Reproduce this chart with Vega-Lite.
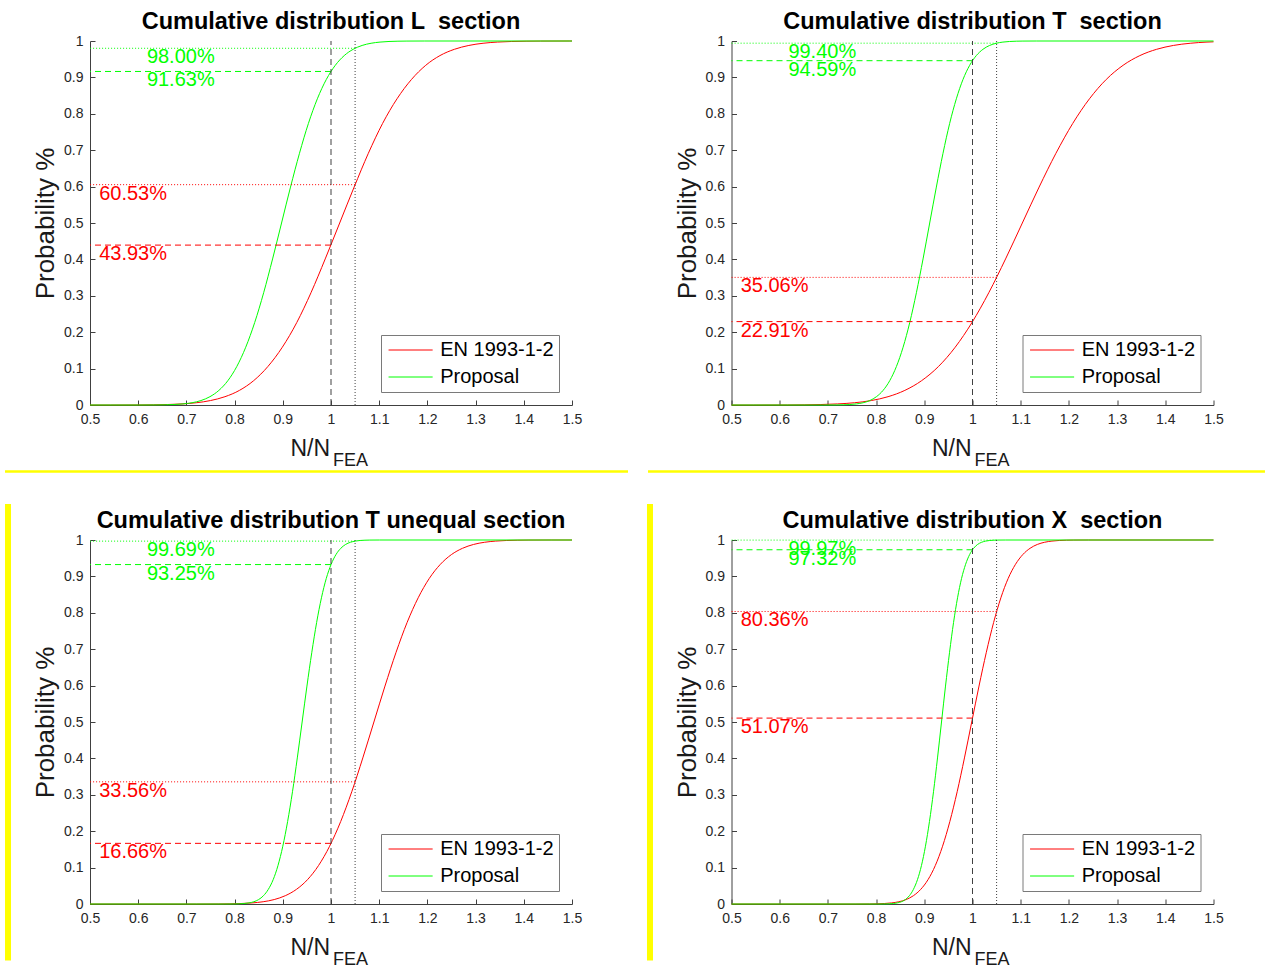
{
"$schema":"https://vega.github.io/schema/vega-lite/v6.json",
"padding":{"left":3,"top":10,"right":0,"bottom":0},
"config":{
 "font":"Liberation Sans",
 "view":{"stroke":null},
 "axis":{"grid":false,"domainColor":"#404040","tickColor":"#404040","labelColor":"#262626","labelFontSize":14,"tickSize":-5,"labelPadding":12,"labelOverlap":false,"labelFlush":false,"titleFontSize":26,"titleFontWeight":"normal","titleColor":"#1a1a1a"},
 "legend":{"title":null,"orient":"bottom-right","offset":13,"symbolType":"M-3,0H3","symbolSize":216,"symbolStrokeWidth":1,"symbolOffset":14.6,"labelOffset":19.6,"labelFontSize":20,"labelColor":"#000000","strokeColor":"#7a7a7a","fillColor":"#ffffff","padding":5,"rowPadding":7}
},
"datasets":{
"refs":[
{"panel":"L","series":"EN 1993-1-2","style":"dashed","x":1,"p":0.4393,"label":"43.93%"},
{"panel":"L","series":"EN 1993-1-2","style":"dotted","x":1.05,"p":0.6053,"label":"60.53%"},
{"panel":"L","series":"Proposal","style":"dashed","x":1,"p":0.9163,"label":"91.63%"},
{"panel":"L","series":"Proposal","style":"dotted","x":1.05,"p":0.98,"label":"98.00%"},
{"panel":"T","series":"EN 1993-1-2","style":"dashed","x":1,"p":0.2291,"label":"22.91%"},
{"panel":"T","series":"EN 1993-1-2","style":"dotted","x":1.05,"p":0.3506,"label":"35.06%"},
{"panel":"T","series":"Proposal","style":"dashed","x":1,"p":0.9459,"label":"94.59%"},
{"panel":"T","series":"Proposal","style":"dotted","x":1.05,"p":0.994,"label":"99.40%"},
{"panel":"Tu","series":"EN 1993-1-2","style":"dashed","x":1,"p":0.1666,"label":"16.66%"},
{"panel":"Tu","series":"EN 1993-1-2","style":"dotted","x":1.05,"p":0.3356,"label":"33.56%"},
{"panel":"Tu","series":"Proposal","style":"dashed","x":1,"p":0.9325,"label":"93.25%"},
{"panel":"Tu","series":"Proposal","style":"dotted","x":1.05,"p":0.9969,"label":"99.69%"},
{"panel":"X","series":"EN 1993-1-2","style":"dashed","x":1,"p":0.5107,"label":"51.07%"},
{"panel":"X","series":"EN 1993-1-2","style":"dotted","x":1.05,"p":0.8036,"label":"80.36%"},
{"panel":"X","series":"Proposal","style":"dashed","x":1,"p":0.9732,"label":"97.32%"},
{"panel":"X","series":"Proposal","style":"dotted","x":1.05,"p":0.9997,"label":"99.97%"}
],
"curves":[
{"panel":"L","series":"EN 1993-1-2","x":0.5,"p":0},{"panel":"L","series":"EN 1993-1-2","x":0.542,"p":0},{"panel":"L","series":"EN 1993-1-2","x":0.6015,"p":0.0002},{"panel":"L","series":"EN 1993-1-2","x":0.661,"p":0.0013},{"panel":"L","series":"EN 1993-1-2","x":0.691,"p":0.003},{"panel":"L","series":"EN 1993-1-2","x":0.7205,"p":0.0062},{"panel":"L","series":"EN 1993-1-2","x":0.75,"p":0.0122},{"panel":"L","series":"EN 1993-1-2","x":0.78,"p":0.0228},{"panel":"L","series":"EN 1993-1-2","x":0.81,"p":0.0401},{"panel":"L","series":"EN 1993-1-2","x":0.8395,"p":0.0668},{"panel":"L","series":"EN 1993-1-2","x":0.869,"p":0.1056},{"panel":"L","series":"EN 1993-1-2","x":0.899,"p":0.1587},{"panel":"L","series":"EN 1993-1-2","x":0.929,"p":0.2266},{"panel":"L","series":"EN 1993-1-2","x":0.9585,"p":0.3085},{"panel":"L","series":"EN 1993-1-2","x":0.988,"p":0.4013},{"panel":"L","series":"EN 1993-1-2","x":1.018,"p":0.5},{"panel":"L","series":"EN 1993-1-2","x":1.048,"p":0.5987},{"panel":"L","series":"EN 1993-1-2","x":1.0775,"p":0.6915},{"panel":"L","series":"EN 1993-1-2","x":1.107,"p":0.7734},{"panel":"L","series":"EN 1993-1-2","x":1.137,"p":0.8413},{"panel":"L","series":"EN 1993-1-2","x":1.167,"p":0.8944},{"panel":"L","series":"EN 1993-1-2","x":1.1965,"p":0.9332},{"panel":"L","series":"EN 1993-1-2","x":1.226,"p":0.9599},{"panel":"L","series":"EN 1993-1-2","x":1.256,"p":0.9772},{"panel":"L","series":"EN 1993-1-2","x":1.286,"p":0.9878},{"panel":"L","series":"EN 1993-1-2","x":1.3155,"p":0.9938},{"panel":"L","series":"EN 1993-1-2","x":1.345,"p":0.997},{"panel":"L","series":"EN 1993-1-2","x":1.375,"p":0.9987},{"panel":"L","series":"EN 1993-1-2","x":1.4345,"p":0.9998},{"panel":"L","series":"EN 1993-1-2","x":1.494,"p":1},{"panel":"L","series":"EN 1993-1-2","x":1.5,"p":1},
{"panel":"L","series":"Proposal","x":0.5,"p":0},{"panel":"L","series":"Proposal","x":0.6,"p":0},{"panel":"L","series":"Proposal","x":0.6374,"p":0.0002},{"panel":"L","series":"Proposal","x":0.6745,"p":0.0013},{"panel":"L","series":"Proposal","x":0.693,"p":0.003},{"panel":"L","series":"Proposal","x":0.7117,"p":0.0062},{"panel":"L","series":"Proposal","x":0.7302,"p":0.0122},{"panel":"L","series":"Proposal","x":0.7488,"p":0.0228},{"panel":"L","series":"Proposal","x":0.7674,"p":0.0401},{"panel":"L","series":"Proposal","x":0.786,"p":0.0668},{"panel":"L","series":"Proposal","x":0.8045,"p":0.1056},{"panel":"L","series":"Proposal","x":0.8231,"p":0.1587},{"panel":"L","series":"Proposal","x":0.8417,"p":0.2266},{"panel":"L","series":"Proposal","x":0.8603,"p":0.3085},{"panel":"L","series":"Proposal","x":0.8788,"p":0.4013},{"panel":"L","series":"Proposal","x":0.8974,"p":0.5},{"panel":"L","series":"Proposal","x":0.916,"p":0.5987},{"panel":"L","series":"Proposal","x":0.9346,"p":0.6915},{"panel":"L","series":"Proposal","x":0.9531,"p":0.7734},{"panel":"L","series":"Proposal","x":0.9717,"p":0.8413},{"panel":"L","series":"Proposal","x":0.9903,"p":0.8944},{"panel":"L","series":"Proposal","x":1.0089,"p":0.9332},{"panel":"L","series":"Proposal","x":1.0274,"p":0.9599},{"panel":"L","series":"Proposal","x":1.046,"p":0.9772},{"panel":"L","series":"Proposal","x":1.0646,"p":0.9878},{"panel":"L","series":"Proposal","x":1.0832,"p":0.9938},{"panel":"L","series":"Proposal","x":1.1017,"p":0.997},{"panel":"L","series":"Proposal","x":1.1203,"p":0.9987},{"panel":"L","series":"Proposal","x":1.1575,"p":0.9998},{"panel":"L","series":"Proposal","x":1.1946,"p":1},{"panel":"L","series":"Proposal","x":1.5,"p":1},
{"panel":"T","series":"EN 1993-1-2","x":0.5,"p":0},{"panel":"T","series":"EN 1993-1-2","x":0.5462,"p":0},{"panel":"T","series":"EN 1993-1-2","x":0.6159,"p":0.0002},{"panel":"T","series":"EN 1993-1-2","x":0.6855,"p":0.0013},{"panel":"T","series":"EN 1993-1-2","x":0.7203,"p":0.003},{"panel":"T","series":"EN 1993-1-2","x":0.7552,"p":0.0062},{"panel":"T","series":"EN 1993-1-2","x":0.79,"p":0.0122},{"panel":"T","series":"EN 1993-1-2","x":0.8248,"p":0.0228},{"panel":"T","series":"EN 1993-1-2","x":0.8596,"p":0.0401},{"panel":"T","series":"EN 1993-1-2","x":0.8944,"p":0.0668},{"panel":"T","series":"EN 1993-1-2","x":0.9293,"p":0.1056},{"panel":"T","series":"EN 1993-1-2","x":0.9641,"p":0.1587},{"panel":"T","series":"EN 1993-1-2","x":0.9989,"p":0.2266},{"panel":"T","series":"EN 1993-1-2","x":1.0338,"p":0.3085},{"panel":"T","series":"EN 1993-1-2","x":1.0686,"p":0.4013},{"panel":"T","series":"EN 1993-1-2","x":1.1034,"p":0.5},{"panel":"T","series":"EN 1993-1-2","x":1.1382,"p":0.5987},{"panel":"T","series":"EN 1993-1-2","x":1.1731,"p":0.6915},{"panel":"T","series":"EN 1993-1-2","x":1.2079,"p":0.7734},{"panel":"T","series":"EN 1993-1-2","x":1.2427,"p":0.8413},{"panel":"T","series":"EN 1993-1-2","x":1.2775,"p":0.8944},{"panel":"T","series":"EN 1993-1-2","x":1.3124,"p":0.9332},{"panel":"T","series":"EN 1993-1-2","x":1.3472,"p":0.9599},{"panel":"T","series":"EN 1993-1-2","x":1.382,"p":0.9772},{"panel":"T","series":"EN 1993-1-2","x":1.4168,"p":0.9878},{"panel":"T","series":"EN 1993-1-2","x":1.4517,"p":0.9938},{"panel":"T","series":"EN 1993-1-2","x":1.4865,"p":0.997},{"panel":"T","series":"EN 1993-1-2","x":1.5,"p":0.9977},
{"panel":"T","series":"Proposal","x":0.5,"p":0},{"panel":"T","series":"Proposal","x":0.6902,"p":0},{"panel":"T","series":"Proposal","x":0.7178,"p":0.0002},{"panel":"T","series":"Proposal","x":0.7455,"p":0.0013},{"panel":"T","series":"Proposal","x":0.7593,"p":0.003},{"panel":"T","series":"Proposal","x":0.7731,"p":0.0062},{"panel":"T","series":"Proposal","x":0.7869,"p":0.0122},{"panel":"T","series":"Proposal","x":0.8007,"p":0.0228},{"panel":"T","series":"Proposal","x":0.8145,"p":0.0401},{"panel":"T","series":"Proposal","x":0.8283,"p":0.0668},{"panel":"T","series":"Proposal","x":0.8421,"p":0.1056},{"panel":"T","series":"Proposal","x":0.856,"p":0.1587},{"panel":"T","series":"Proposal","x":0.8698,"p":0.2266},{"panel":"T","series":"Proposal","x":0.8836,"p":0.3085},{"panel":"T","series":"Proposal","x":0.8974,"p":0.4013},{"panel":"T","series":"Proposal","x":0.9112,"p":0.5},{"panel":"T","series":"Proposal","x":0.925,"p":0.5987},{"panel":"T","series":"Proposal","x":0.9388,"p":0.6915},{"panel":"T","series":"Proposal","x":0.9526,"p":0.7734},{"panel":"T","series":"Proposal","x":0.9665,"p":0.8413},{"panel":"T","series":"Proposal","x":0.9803,"p":0.8944},{"panel":"T","series":"Proposal","x":0.9941,"p":0.9332},{"panel":"T","series":"Proposal","x":1.0079,"p":0.9599},{"panel":"T","series":"Proposal","x":1.0217,"p":0.9772},{"panel":"T","series":"Proposal","x":1.0355,"p":0.9878},{"panel":"T","series":"Proposal","x":1.0493,"p":0.9938},{"panel":"T","series":"Proposal","x":1.0631,"p":0.997},{"panel":"T","series":"Proposal","x":1.077,"p":0.9987},{"panel":"T","series":"Proposal","x":1.1046,"p":0.9998},{"panel":"T","series":"Proposal","x":1.1322,"p":1},{"panel":"T","series":"Proposal","x":1.5,"p":1},
{"panel":"Tu","series":"EN 1993-1-2","x":0.5,"p":0},{"panel":"Tu","series":"EN 1993-1-2","x":0.7214,"p":0},{"panel":"Tu","series":"EN 1993-1-2","x":0.7674,"p":0.0002},{"panel":"Tu","series":"EN 1993-1-2","x":0.8133,"p":0.0013},{"panel":"Tu","series":"EN 1993-1-2","x":0.8363,"p":0.003},{"panel":"Tu","series":"EN 1993-1-2","x":0.8593,"p":0.0062},{"panel":"Tu","series":"EN 1993-1-2","x":0.8822,"p":0.0122},{"panel":"Tu","series":"EN 1993-1-2","x":0.9052,"p":0.0228},{"panel":"Tu","series":"EN 1993-1-2","x":0.9282,"p":0.0401},{"panel":"Tu","series":"EN 1993-1-2","x":0.9512,"p":0.0668},{"panel":"Tu","series":"EN 1993-1-2","x":0.9741,"p":0.1056},{"panel":"Tu","series":"EN 1993-1-2","x":0.9971,"p":0.1587},{"panel":"Tu","series":"EN 1993-1-2","x":1.0201,"p":0.2266},{"panel":"Tu","series":"EN 1993-1-2","x":1.0431,"p":0.3085},{"panel":"Tu","series":"EN 1993-1-2","x":1.066,"p":0.4013},{"panel":"Tu","series":"EN 1993-1-2","x":1.089,"p":0.5},{"panel":"Tu","series":"EN 1993-1-2","x":1.112,"p":0.5987},{"panel":"Tu","series":"EN 1993-1-2","x":1.135,"p":0.6915},{"panel":"Tu","series":"EN 1993-1-2","x":1.1579,"p":0.7734},{"panel":"Tu","series":"EN 1993-1-2","x":1.1809,"p":0.8413},{"panel":"Tu","series":"EN 1993-1-2","x":1.2039,"p":0.8944},{"panel":"Tu","series":"EN 1993-1-2","x":1.2269,"p":0.9332},{"panel":"Tu","series":"EN 1993-1-2","x":1.2498,"p":0.9599},{"panel":"Tu","series":"EN 1993-1-2","x":1.2728,"p":0.9772},{"panel":"Tu","series":"EN 1993-1-2","x":1.2958,"p":0.9878},{"panel":"Tu","series":"EN 1993-1-2","x":1.3188,"p":0.9938},{"panel":"Tu","series":"EN 1993-1-2","x":1.3417,"p":0.997},{"panel":"Tu","series":"EN 1993-1-2","x":1.3647,"p":0.9987},{"panel":"Tu","series":"EN 1993-1-2","x":1.4107,"p":0.9998},{"panel":"Tu","series":"EN 1993-1-2","x":1.4566,"p":1},{"panel":"Tu","series":"EN 1993-1-2","x":1.5,"p":1},
{"panel":"Tu","series":"Proposal","x":0.5,"p":0},{"panel":"Tu","series":"Proposal","x":0.7797,"p":0},{"panel":"Tu","series":"Proposal","x":0.7998,"p":0.0002},{"panel":"Tu","series":"Proposal","x":0.8198,"p":0.0013},{"panel":"Tu","series":"Proposal","x":0.8298,"p":0.003},{"panel":"Tu","series":"Proposal","x":0.8399,"p":0.0062},{"panel":"Tu","series":"Proposal","x":0.8499,"p":0.0122},{"panel":"Tu","series":"Proposal","x":0.8599,"p":0.0228},{"panel":"Tu","series":"Proposal","x":0.8699,"p":0.0401},{"panel":"Tu","series":"Proposal","x":0.88,"p":0.0668},{"panel":"Tu","series":"Proposal","x":0.89,"p":0.1056},{"panel":"Tu","series":"Proposal","x":0.9,"p":0.1587},{"panel":"Tu","series":"Proposal","x":0.91,"p":0.2266},{"panel":"Tu","series":"Proposal","x":0.9201,"p":0.3085},{"panel":"Tu","series":"Proposal","x":0.9301,"p":0.4013},{"panel":"Tu","series":"Proposal","x":0.9401,"p":0.5},{"panel":"Tu","series":"Proposal","x":0.9501,"p":0.5987},{"panel":"Tu","series":"Proposal","x":0.9602,"p":0.6915},{"panel":"Tu","series":"Proposal","x":0.9702,"p":0.7734},{"panel":"Tu","series":"Proposal","x":0.9802,"p":0.8413},{"panel":"Tu","series":"Proposal","x":0.9902,"p":0.8944},{"panel":"Tu","series":"Proposal","x":1.0003,"p":0.9332},{"panel":"Tu","series":"Proposal","x":1.0103,"p":0.9599},{"panel":"Tu","series":"Proposal","x":1.0203,"p":0.9772},{"panel":"Tu","series":"Proposal","x":1.0303,"p":0.9878},{"panel":"Tu","series":"Proposal","x":1.0404,"p":0.9938},{"panel":"Tu","series":"Proposal","x":1.0504,"p":0.997},{"panel":"Tu","series":"Proposal","x":1.0604,"p":0.9987},{"panel":"Tu","series":"Proposal","x":1.0805,"p":0.9998},{"panel":"Tu","series":"Proposal","x":1.1005,"p":1},{"panel":"Tu","series":"Proposal","x":1.5,"p":1},
{"panel":"X","series":"EN 1993-1-2","x":0.5,"p":0},{"panel":"X","series":"EN 1993-1-2","x":0.7564,"p":0},{"panel":"X","series":"EN 1993-1-2","x":0.7867,"p":0.0002},{"panel":"X","series":"EN 1993-1-2","x":0.8169,"p":0.0013},{"panel":"X","series":"EN 1993-1-2","x":0.832,"p":0.003},{"panel":"X","series":"EN 1993-1-2","x":0.8472,"p":0.0062},{"panel":"X","series":"EN 1993-1-2","x":0.8623,"p":0.0122},{"panel":"X","series":"EN 1993-1-2","x":0.8774,"p":0.0228},{"panel":"X","series":"EN 1993-1-2","x":0.8925,"p":0.0401},{"panel":"X","series":"EN 1993-1-2","x":0.9077,"p":0.0668},{"panel":"X","series":"EN 1993-1-2","x":0.9228,"p":0.1056},{"panel":"X","series":"EN 1993-1-2","x":0.9379,"p":0.1587},{"panel":"X","series":"EN 1993-1-2","x":0.953,"p":0.2266},{"panel":"X","series":"EN 1993-1-2","x":0.9682,"p":0.3085},{"panel":"X","series":"EN 1993-1-2","x":0.9833,"p":0.4013},{"panel":"X","series":"EN 1993-1-2","x":0.9984,"p":0.5},{"panel":"X","series":"EN 1993-1-2","x":1.0135,"p":0.5987},{"panel":"X","series":"EN 1993-1-2","x":1.0287,"p":0.6915},{"panel":"X","series":"EN 1993-1-2","x":1.0438,"p":0.7734},{"panel":"X","series":"EN 1993-1-2","x":1.0589,"p":0.8413},{"panel":"X","series":"EN 1993-1-2","x":1.074,"p":0.8944},{"panel":"X","series":"EN 1993-1-2","x":1.0892,"p":0.9332},{"panel":"X","series":"EN 1993-1-2","x":1.1043,"p":0.9599},{"panel":"X","series":"EN 1993-1-2","x":1.1194,"p":0.9772},{"panel":"X","series":"EN 1993-1-2","x":1.1345,"p":0.9878},{"panel":"X","series":"EN 1993-1-2","x":1.1497,"p":0.9938},{"panel":"X","series":"EN 1993-1-2","x":1.1648,"p":0.997},{"panel":"X","series":"EN 1993-1-2","x":1.1799,"p":0.9987},{"panel":"X","series":"EN 1993-1-2","x":1.2102,"p":0.9998},{"panel":"X","series":"EN 1993-1-2","x":1.2404,"p":1},{"panel":"X","series":"EN 1993-1-2","x":1.5,"p":1},
{"panel":"X","series":"Proposal","x":0.5,"p":0},{"panel":"X","series":"Proposal","x":0.8025,"p":0},{"panel":"X","series":"Proposal","x":0.8191,"p":0.0002},{"panel":"X","series":"Proposal","x":0.8358,"p":0.0013},{"panel":"X","series":"Proposal","x":0.8441,"p":0.003},{"panel":"X","series":"Proposal","x":0.8525,"p":0.0062},{"panel":"X","series":"Proposal","x":0.8608,"p":0.0122},{"panel":"X","series":"Proposal","x":0.8691,"p":0.0228},{"panel":"X","series":"Proposal","x":0.8774,"p":0.0401},{"panel":"X","series":"Proposal","x":0.8858,"p":0.0668},{"panel":"X","series":"Proposal","x":0.8941,"p":0.1056},{"panel":"X","series":"Proposal","x":0.9024,"p":0.1587},{"panel":"X","series":"Proposal","x":0.9107,"p":0.2266},{"panel":"X","series":"Proposal","x":0.9191,"p":0.3085},{"panel":"X","series":"Proposal","x":0.9274,"p":0.4013},{"panel":"X","series":"Proposal","x":0.9357,"p":0.5},{"panel":"X","series":"Proposal","x":0.944,"p":0.5987},{"panel":"X","series":"Proposal","x":0.9524,"p":0.6915},{"panel":"X","series":"Proposal","x":0.9607,"p":0.7734},{"panel":"X","series":"Proposal","x":0.969,"p":0.8413},{"panel":"X","series":"Proposal","x":0.9773,"p":0.8944},{"panel":"X","series":"Proposal","x":0.9857,"p":0.9332},{"panel":"X","series":"Proposal","x":0.994,"p":0.9599},{"panel":"X","series":"Proposal","x":1.0023,"p":0.9772},{"panel":"X","series":"Proposal","x":1.0106,"p":0.9878},{"panel":"X","series":"Proposal","x":1.019,"p":0.9938},{"panel":"X","series":"Proposal","x":1.0273,"p":0.997},{"panel":"X","series":"Proposal","x":1.0356,"p":0.9987},{"panel":"X","series":"Proposal","x":1.0523,"p":0.9998},{"panel":"X","series":"Proposal","x":1.069,"p":1},{"panel":"X","series":"Proposal","x":1.5,"p":1}
]
},
"spacing":28,
"bounds":"full",
"resolve":{"scale":{"color":"independent"}},
"vconcat":[
{"hconcat":[
{"width":482,"height":364,
"layer":[
{"data":{"name":"curves"},"transform":[{"filter":"datum.panel === 'L'"}],"mark":{"type":"line","interpolate":"monotone","strokeWidth":1},
 "encoding":{"x":{"field":"x","type":"quantitative","scale":{"domain":[0.5,1.5]},"axis":{"title":null,"values":[0.5,0.6,0.7,0.8,0.9,1,1.1,1.2,1.3,1.4,1.5],"format":".1~f","labelOverlap":false}},
 "y":{"field":"p","type":"quantitative","scale":{"domain":[0,1]},"axis":{"title":"Probability %","values":[0,0.1,0.2,0.3,0.4,0.5,0.6,0.7,0.8,0.9,1],"format":".1~f","titlePadding":5,"labelOverlap":false,"tickCount":11}},
 "color":{"field":"series","type":"nominal","scale":{"domain":["EN 1993-1-2","Proposal"],"range":["#ff0000","#00ff00"]}}}},
{"data":{"name":"refs"},"transform":[{"filter":"datum.panel === 'L' && datum.style === 'dashed'"}],"mark":{"type":"rule","strokeDash":[6,4],"strokeWidth":1},"encoding":{"x":{"field":"x","type":"quantitative"},"x2":{"datum":0.5},"y":{"field":"p","type":"quantitative"},"stroke":{"field":"series","type":"nominal","scale":{"domain":["EN 1993-1-2","Proposal"],"range":["#ff0000","#00ff00"]},"legend":null}}},
{"data":{"name":"refs"},"transform":[{"filter":"datum.panel === 'L' && datum.style === 'dotted'"}],"mark":{"type":"rule","strokeDash":[1,2],"strokeWidth":1},"encoding":{"x":{"field":"x","type":"quantitative"},"x2":{"datum":0.5},"y":{"field":"p","type":"quantitative"},"stroke":{"field":"series","type":"nominal","scale":{"domain":["EN 1993-1-2","Proposal"],"range":["#ff0000","#00ff00"]},"legend":null}}},
{"data":{"name":"refs"},"transform":[{"filter":"datum.panel === 'L' && datum.series === 'EN 1993-1-2'"}],"mark":{"type":"text","align":"left","baseline":"top","fontSize":20,"dy":-1},"encoding":{"x":{"datum":0.519,"type":"quantitative"},"y":{"field":"p","type":"quantitative"},"text":{"field":"label","type":"nominal"},"fill":{"field":"series","type":"nominal","scale":{"domain":["EN 1993-1-2","Proposal"],"range":["#ff0000","#00ff00"]},"legend":null}}},
{"data":{"name":"refs"},"transform":[{"filter":"datum.panel === 'L' && datum.series === 'Proposal'"}],"mark":{"type":"text","align":"left","baseline":"top","fontSize":20,"dy":-1},"encoding":{"x":{"datum":0.618,"type":"quantitative"},"y":{"field":"p","type":"quantitative"},"text":{"field":"label","type":"nominal"},"fill":{"field":"series","type":"nominal","scale":{"domain":["EN 1993-1-2","Proposal"],"range":["#ff0000","#00ff00"]},"legend":null}}},
{"data":{"name":"refs"},"transform":[{"filter":"datum.panel === 'L' && datum.series === 'EN 1993-1-2' && datum.style === 'dashed'"}],"mark":{"type":"rule","strokeDash":[6,4],"strokeWidth":1,"color":"#404040"},"encoding":{"x":{"field":"x","type":"quantitative"},"y":{"datum":0,"type":"quantitative"},"y2":{"datum":1}}},
{"data":{"name":"refs"},"transform":[{"filter":"datum.panel === 'L' && datum.series === 'EN 1993-1-2' && datum.style === 'dotted'"}],"mark":{"type":"rule","strokeDash":[1,2],"strokeWidth":1,"color":"#404040"},"encoding":{"x":{"field":"x","type":"quantitative"},"y":{"datum":0,"type":"quantitative"},"y2":{"datum":1}}},
{"data":{"name":"refs"},"transform":[{"filter":"datum.panel === 'L' && datum.series === 'EN 1993-1-2' && datum.style === 'dashed'"}],"mark":{"type":"text","align":"center","baseline":"alphabetic","fontSize":23.5,"fontWeight":"bold","color":"#000000"},"encoding":{"x":{"datum":1.0,"type":"quantitative"},"y":{"datum":1.0316,"type":"quantitative"},"text":{"value":"Cumulative distribution L\u00a0 section"}}},
{"data":{"name":"refs"},"transform":[{"filter":"datum.panel === 'L' && datum.series === 'EN 1993-1-2' && datum.style === 'dashed'"}],"mark":{"type":"text","align":"right","baseline":"alphabetic","fontSize":23,"color":"#1a1a1a"},"encoding":{"x":{"datum":0.998,"type":"quantitative"},"y":{"datum":-0.14,"type":"quantitative"},"text":{"value":"N/N"}}},
{"data":{"name":"refs"},"transform":[{"filter":"datum.panel === 'L' && datum.series === 'EN 1993-1-2' && datum.style === 'dashed'"}],"mark":{"type":"text","align":"left","baseline":"alphabetic","fontSize":18,"color":"#1a1a1a"},"encoding":{"x":{"datum":1.004,"type":"quantitative"},"y":{"datum":-0.167,"type":"quantitative"},"text":{"value":"FEA"}}},
{"data":{"name":"refs"},"transform":[{"filter":"datum.panel === 'L' && datum.series === 'EN 1993-1-2' && datum.style === 'dashed'"}],"mark":{"type":"rule","strokeWidth":2.5,"color":"#ffff00"},"encoding":{"x":{"datum":0.3237,"type":"quantitative"},"x2":{"datum":1.6162},"y":{"datum":-0.1827,"type":"quantitative"}}}
]},
{"width":482,"height":364,
"layer":[
{"data":{"name":"curves"},"transform":[{"filter":"datum.panel === 'T'"}],"mark":{"type":"line","interpolate":"monotone","strokeWidth":1},
 "encoding":{"x":{"field":"x","type":"quantitative","scale":{"domain":[0.5,1.5]},"axis":{"title":null,"values":[0.5,0.6,0.7,0.8,0.9,1,1.1,1.2,1.3,1.4,1.5],"format":".1~f","labelOverlap":false}},
 "y":{"field":"p","type":"quantitative","scale":{"domain":[0,1]},"axis":{"title":"Probability %","values":[0,0.1,0.2,0.3,0.4,0.5,0.6,0.7,0.8,0.9,1],"format":".1~f","titlePadding":5,"labelOverlap":false,"tickCount":11}},
 "color":{"field":"series","type":"nominal","scale":{"domain":["EN 1993-1-2","Proposal"],"range":["#ff0000","#00ff00"]}}}},
{"data":{"name":"refs"},"transform":[{"filter":"datum.panel === 'T' && datum.style === 'dashed'"}],"mark":{"type":"rule","strokeDash":[6,4],"strokeWidth":1},"encoding":{"x":{"field":"x","type":"quantitative"},"x2":{"datum":0.5},"y":{"field":"p","type":"quantitative"},"stroke":{"field":"series","type":"nominal","scale":{"domain":["EN 1993-1-2","Proposal"],"range":["#ff0000","#00ff00"]},"legend":null}}},
{"data":{"name":"refs"},"transform":[{"filter":"datum.panel === 'T' && datum.style === 'dotted'"}],"mark":{"type":"rule","strokeDash":[1,2],"strokeWidth":1},"encoding":{"x":{"field":"x","type":"quantitative"},"x2":{"datum":0.5},"y":{"field":"p","type":"quantitative"},"stroke":{"field":"series","type":"nominal","scale":{"domain":["EN 1993-1-2","Proposal"],"range":["#ff0000","#00ff00"]},"legend":null}}},
{"data":{"name":"refs"},"transform":[{"filter":"datum.panel === 'T' && datum.series === 'EN 1993-1-2'"}],"mark":{"type":"text","align":"left","baseline":"top","fontSize":20,"dy":-1},"encoding":{"x":{"datum":0.519,"type":"quantitative"},"y":{"field":"p","type":"quantitative"},"text":{"field":"label","type":"nominal"},"fill":{"field":"series","type":"nominal","scale":{"domain":["EN 1993-1-2","Proposal"],"range":["#ff0000","#00ff00"]},"legend":null}}},
{"data":{"name":"refs"},"transform":[{"filter":"datum.panel === 'T' && datum.series === 'Proposal'"}],"mark":{"type":"text","align":"left","baseline":"top","fontSize":20,"dy":-1},"encoding":{"x":{"datum":0.618,"type":"quantitative"},"y":{"field":"p","type":"quantitative"},"text":{"field":"label","type":"nominal"},"fill":{"field":"series","type":"nominal","scale":{"domain":["EN 1993-1-2","Proposal"],"range":["#ff0000","#00ff00"]},"legend":null}}},
{"data":{"name":"refs"},"transform":[{"filter":"datum.panel === 'T' && datum.series === 'EN 1993-1-2' && datum.style === 'dashed'"}],"mark":{"type":"rule","strokeDash":[6,4],"strokeWidth":1,"color":"#404040"},"encoding":{"x":{"field":"x","type":"quantitative"},"y":{"datum":0,"type":"quantitative"},"y2":{"datum":1}}},
{"data":{"name":"refs"},"transform":[{"filter":"datum.panel === 'T' && datum.series === 'EN 1993-1-2' && datum.style === 'dotted'"}],"mark":{"type":"rule","strokeDash":[1,2],"strokeWidth":1,"color":"#404040"},"encoding":{"x":{"field":"x","type":"quantitative"},"y":{"datum":0,"type":"quantitative"},"y2":{"datum":1}}},
{"data":{"name":"refs"},"transform":[{"filter":"datum.panel === 'T' && datum.series === 'EN 1993-1-2' && datum.style === 'dashed'"}],"mark":{"type":"text","align":"center","baseline":"alphabetic","fontSize":23.5,"fontWeight":"bold","color":"#000000"},"encoding":{"x":{"datum":1.0,"type":"quantitative"},"y":{"datum":1.0316,"type":"quantitative"},"text":{"value":"Cumulative distribution T\u00a0 section"}}},
{"data":{"name":"refs"},"transform":[{"filter":"datum.panel === 'T' && datum.series === 'EN 1993-1-2' && datum.style === 'dashed'"}],"mark":{"type":"text","align":"right","baseline":"alphabetic","fontSize":23,"color":"#1a1a1a"},"encoding":{"x":{"datum":0.998,"type":"quantitative"},"y":{"datum":-0.14,"type":"quantitative"},"text":{"value":"N/N"}}},
{"data":{"name":"refs"},"transform":[{"filter":"datum.panel === 'T' && datum.series === 'EN 1993-1-2' && datum.style === 'dashed'"}],"mark":{"type":"text","align":"left","baseline":"alphabetic","fontSize":18,"color":"#1a1a1a"},"encoding":{"x":{"datum":1.004,"type":"quantitative"},"y":{"datum":-0.167,"type":"quantitative"},"text":{"value":"FEA"}}},
{"data":{"name":"refs"},"transform":[{"filter":"datum.panel === 'T' && datum.series === 'EN 1993-1-2' && datum.style === 'dashed'"}],"mark":{"type":"rule","strokeWidth":2.5,"color":"#ffff00"},"encoding":{"x":{"datum":0.3268,"type":"quantitative"},"x2":{"datum":1.6068},"y":{"datum":-0.1827,"type":"quantitative"}}}
]}
],"spacing":159.5,"bounds":"flush","resolve":{"scale":{"color":"independent"}}},
{"hconcat":[
{"width":482,"height":364,
"layer":[
{"data":{"name":"curves"},"transform":[{"filter":"datum.panel === 'Tu'"}],"mark":{"type":"line","interpolate":"monotone","strokeWidth":1},
 "encoding":{"x":{"field":"x","type":"quantitative","scale":{"domain":[0.5,1.5]},"axis":{"title":null,"values":[0.5,0.6,0.7,0.8,0.9,1,1.1,1.2,1.3,1.4,1.5],"format":".1~f","labelOverlap":false}},
 "y":{"field":"p","type":"quantitative","scale":{"domain":[0,1]},"axis":{"title":"Probability %","values":[0,0.1,0.2,0.3,0.4,0.5,0.6,0.7,0.8,0.9,1],"format":".1~f","titlePadding":5,"labelOverlap":false,"tickCount":11}},
 "color":{"field":"series","type":"nominal","scale":{"domain":["EN 1993-1-2","Proposal"],"range":["#ff0000","#00ff00"]}}}},
{"data":{"name":"refs"},"transform":[{"filter":"datum.panel === 'Tu' && datum.style === 'dashed'"}],"mark":{"type":"rule","strokeDash":[6,4],"strokeWidth":1},"encoding":{"x":{"field":"x","type":"quantitative"},"x2":{"datum":0.5},"y":{"field":"p","type":"quantitative"},"stroke":{"field":"series","type":"nominal","scale":{"domain":["EN 1993-1-2","Proposal"],"range":["#ff0000","#00ff00"]},"legend":null}}},
{"data":{"name":"refs"},"transform":[{"filter":"datum.panel === 'Tu' && datum.style === 'dotted'"}],"mark":{"type":"rule","strokeDash":[1,2],"strokeWidth":1},"encoding":{"x":{"field":"x","type":"quantitative"},"x2":{"datum":0.5},"y":{"field":"p","type":"quantitative"},"stroke":{"field":"series","type":"nominal","scale":{"domain":["EN 1993-1-2","Proposal"],"range":["#ff0000","#00ff00"]},"legend":null}}},
{"data":{"name":"refs"},"transform":[{"filter":"datum.panel === 'Tu' && datum.series === 'EN 1993-1-2'"}],"mark":{"type":"text","align":"left","baseline":"top","fontSize":20,"dy":-1},"encoding":{"x":{"datum":0.519,"type":"quantitative"},"y":{"field":"p","type":"quantitative"},"text":{"field":"label","type":"nominal"},"fill":{"field":"series","type":"nominal","scale":{"domain":["EN 1993-1-2","Proposal"],"range":["#ff0000","#00ff00"]},"legend":null}}},
{"data":{"name":"refs"},"transform":[{"filter":"datum.panel === 'Tu' && datum.series === 'Proposal'"}],"mark":{"type":"text","align":"left","baseline":"top","fontSize":20,"dy":-1},"encoding":{"x":{"datum":0.618,"type":"quantitative"},"y":{"field":"p","type":"quantitative"},"text":{"field":"label","type":"nominal"},"fill":{"field":"series","type":"nominal","scale":{"domain":["EN 1993-1-2","Proposal"],"range":["#ff0000","#00ff00"]},"legend":null}}},
{"data":{"name":"refs"},"transform":[{"filter":"datum.panel === 'Tu' && datum.series === 'EN 1993-1-2' && datum.style === 'dashed'"}],"mark":{"type":"rule","strokeDash":[6,4],"strokeWidth":1,"color":"#404040"},"encoding":{"x":{"field":"x","type":"quantitative"},"y":{"datum":0,"type":"quantitative"},"y2":{"datum":1}}},
{"data":{"name":"refs"},"transform":[{"filter":"datum.panel === 'Tu' && datum.series === 'EN 1993-1-2' && datum.style === 'dotted'"}],"mark":{"type":"rule","strokeDash":[1,2],"strokeWidth":1,"color":"#404040"},"encoding":{"x":{"field":"x","type":"quantitative"},"y":{"datum":0,"type":"quantitative"},"y2":{"datum":1}}},
{"data":{"name":"refs"},"transform":[{"filter":"datum.panel === 'Tu' && datum.series === 'EN 1993-1-2' && datum.style === 'dashed'"}],"mark":{"type":"text","align":"center","baseline":"alphabetic","fontSize":23.5,"fontWeight":"bold","color":"#000000"},"encoding":{"x":{"datum":1.0,"type":"quantitative"},"y":{"datum":1.0316,"type":"quantitative"},"text":{"value":"Cumulative distribution T unequal section"}}},
{"data":{"name":"refs"},"transform":[{"filter":"datum.panel === 'Tu' && datum.series === 'EN 1993-1-2' && datum.style === 'dashed'"}],"mark":{"type":"text","align":"right","baseline":"alphabetic","fontSize":23,"color":"#1a1a1a"},"encoding":{"x":{"datum":0.998,"type":"quantitative"},"y":{"datum":-0.14,"type":"quantitative"},"text":{"value":"N/N"}}},
{"data":{"name":"refs"},"transform":[{"filter":"datum.panel === 'Tu' && datum.series === 'EN 1993-1-2' && datum.style === 'dashed'"}],"mark":{"type":"text","align":"left","baseline":"alphabetic","fontSize":18,"color":"#1a1a1a"},"encoding":{"x":{"datum":1.004,"type":"quantitative"},"y":{"datum":-0.167,"type":"quantitative"},"text":{"value":"FEA"}}},
{"data":{"name":"refs"},"transform":[{"filter":"datum.panel === 'Tu' && datum.series === 'EN 1993-1-2' && datum.style === 'dashed'"}],"mark":{"type":"rule","strokeWidth":6,"color":"#ffff00"},"encoding":{"x":{"datum":0.3299,"type":"quantitative"},"y":{"datum":1.0989,"type":"quantitative"},"y2":{"datum":-0.155}}}
]},
{"width":482,"height":364,
"layer":[
{"data":{"name":"curves"},"transform":[{"filter":"datum.panel === 'X'"}],"mark":{"type":"line","interpolate":"monotone","strokeWidth":1},
 "encoding":{"x":{"field":"x","type":"quantitative","scale":{"domain":[0.5,1.5]},"axis":{"title":null,"values":[0.5,0.6,0.7,0.8,0.9,1,1.1,1.2,1.3,1.4,1.5],"format":".1~f","labelOverlap":false}},
 "y":{"field":"p","type":"quantitative","scale":{"domain":[0,1]},"axis":{"title":"Probability %","values":[0,0.1,0.2,0.3,0.4,0.5,0.6,0.7,0.8,0.9,1],"format":".1~f","titlePadding":5,"labelOverlap":false,"tickCount":11}},
 "color":{"field":"series","type":"nominal","scale":{"domain":["EN 1993-1-2","Proposal"],"range":["#ff0000","#00ff00"]}}}},
{"data":{"name":"refs"},"transform":[{"filter":"datum.panel === 'X' && datum.style === 'dashed'"}],"mark":{"type":"rule","strokeDash":[6,4],"strokeWidth":1},"encoding":{"x":{"field":"x","type":"quantitative"},"x2":{"datum":0.5},"y":{"field":"p","type":"quantitative"},"stroke":{"field":"series","type":"nominal","scale":{"domain":["EN 1993-1-2","Proposal"],"range":["#ff0000","#00ff00"]},"legend":null}}},
{"data":{"name":"refs"},"transform":[{"filter":"datum.panel === 'X' && datum.style === 'dotted'"}],"mark":{"type":"rule","strokeDash":[1,2],"strokeWidth":1},"encoding":{"x":{"field":"x","type":"quantitative"},"x2":{"datum":0.5},"y":{"field":"p","type":"quantitative"},"stroke":{"field":"series","type":"nominal","scale":{"domain":["EN 1993-1-2","Proposal"],"range":["#ff0000","#00ff00"]},"legend":null}}},
{"data":{"name":"refs"},"transform":[{"filter":"datum.panel === 'X' && datum.series === 'EN 1993-1-2'"}],"mark":{"type":"text","align":"left","baseline":"top","fontSize":20,"dy":-1},"encoding":{"x":{"datum":0.519,"type":"quantitative"},"y":{"field":"p","type":"quantitative"},"text":{"field":"label","type":"nominal"},"fill":{"field":"series","type":"nominal","scale":{"domain":["EN 1993-1-2","Proposal"],"range":["#ff0000","#00ff00"]},"legend":null}}},
{"data":{"name":"refs"},"transform":[{"filter":"datum.panel === 'X' && datum.series === 'Proposal'"}],"mark":{"type":"text","align":"left","baseline":"top","fontSize":20,"dy":-1},"encoding":{"x":{"datum":0.618,"type":"quantitative"},"y":{"field":"p","type":"quantitative"},"text":{"field":"label","type":"nominal"},"fill":{"field":"series","type":"nominal","scale":{"domain":["EN 1993-1-2","Proposal"],"range":["#ff0000","#00ff00"]},"legend":null}}},
{"data":{"name":"refs"},"transform":[{"filter":"datum.panel === 'X' && datum.series === 'EN 1993-1-2' && datum.style === 'dashed'"}],"mark":{"type":"rule","strokeDash":[6,4],"strokeWidth":1,"color":"#404040"},"encoding":{"x":{"field":"x","type":"quantitative"},"y":{"datum":0,"type":"quantitative"},"y2":{"datum":1}}},
{"data":{"name":"refs"},"transform":[{"filter":"datum.panel === 'X' && datum.series === 'EN 1993-1-2' && datum.style === 'dotted'"}],"mark":{"type":"rule","strokeDash":[1,2],"strokeWidth":1,"color":"#404040"},"encoding":{"x":{"field":"x","type":"quantitative"},"y":{"datum":0,"type":"quantitative"},"y2":{"datum":1}}},
{"data":{"name":"refs"},"transform":[{"filter":"datum.panel === 'X' && datum.series === 'EN 1993-1-2' && datum.style === 'dashed'"}],"mark":{"type":"text","align":"center","baseline":"alphabetic","fontSize":23.5,"fontWeight":"bold","color":"#000000"},"encoding":{"x":{"datum":1.0,"type":"quantitative"},"y":{"datum":1.0316,"type":"quantitative"},"text":{"value":"Cumulative distribution X\u00a0 section"}}},
{"data":{"name":"refs"},"transform":[{"filter":"datum.panel === 'X' && datum.series === 'EN 1993-1-2' && datum.style === 'dashed'"}],"mark":{"type":"text","align":"right","baseline":"alphabetic","fontSize":23,"color":"#1a1a1a"},"encoding":{"x":{"datum":0.998,"type":"quantitative"},"y":{"datum":-0.14,"type":"quantitative"},"text":{"value":"N/N"}}},
{"data":{"name":"refs"},"transform":[{"filter":"datum.panel === 'X' && datum.series === 'EN 1993-1-2' && datum.style === 'dashed'"}],"mark":{"type":"text","align":"left","baseline":"alphabetic","fontSize":18,"color":"#1a1a1a"},"encoding":{"x":{"datum":1.004,"type":"quantitative"},"y":{"datum":-0.167,"type":"quantitative"},"text":{"value":"FEA"}}},
{"data":{"name":"refs"},"transform":[{"filter":"datum.panel === 'X' && datum.series === 'EN 1993-1-2' && datum.style === 'dashed'"}],"mark":{"type":"rule","strokeWidth":6,"color":"#ffff00"},"encoding":{"x":{"datum":0.3309,"type":"quantitative"},"y":{"datum":1.0989,"type":"quantitative"},"y2":{"datum":-0.155}}}
]}
],"spacing":159.5,"bounds":"flush","resolve":{"scale":{"color":"independent"}}}
]
}
